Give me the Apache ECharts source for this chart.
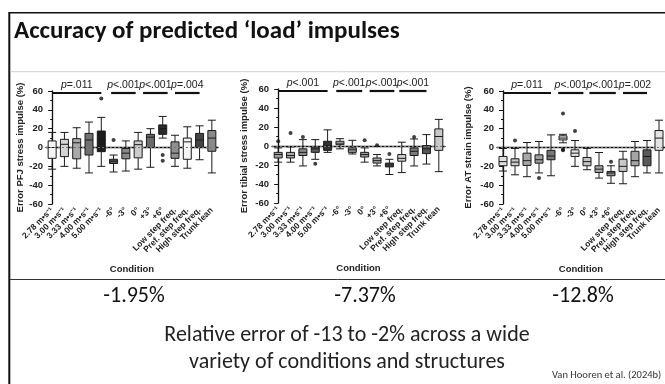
<!DOCTYPE html>
<html lang="en" style="height: 100%">
<head>
  <meta charset="utf-8">
  <title>Accuracy of predicted load impulses</title>
</head>
<body style="height: 100%; margin: 0; background: #fff">
  <div id="container" style="width: 665px; height: 384px"></div>
  <script type="text/javascript" src="https://cdn.jsdelivr.net/npm/echarts@6/dist/echarts.min.js"></script>
  <script type="text/javascript">
// categories (x axis of every panel)
const conditions = ['2.78 m•s⁻¹', '3.00 m•s⁻¹', '3.33 m•s⁻¹', '4.00 m•s⁻¹', '5.00 m•s⁻¹',
  '-6°', '-3°', '0°', '+3°', '+6°',
  'Low step freq.', 'Pref. step freq.', 'High step freq.', 'Trunk lean'];

// box stats: [min, Q1, median, Q3, max]
const pfjStats = [
  [-23, -11.5, 0, 7, 16], [-20, -9.7, 3.4, 8.7, 16], [-22, -12, 5, 9.4, 21], [-27, -8, 8, 15, 27], [-20, -4.4, 9, 17.5, 32],
  [-26, -17, -14.5, -12.5, -8], [-25, -12, -6, -1, 7], [-23, -11, 3, 7, 16], [-21, 0, 11, 14, 20], [10, 14, 20, 24, 33],
  [-20, -11.5, -6, 6, 13], [-22, -12.5, 6, 10, 22], [-13, 0, 8, 15, 23], [-27, -4, 10, 18, 29]
];
const pfjOutliers = [[4, 52], [5, 8], [9, -8], [9, -14]];

const tibialStats = [
  [-17, -12.6, -9, -6.7, -2], [-17, -12.6, -10, -6.7, -1], [-21, -10, -6.7, -3, 6.7], [-14, -6.7, -3, -1, 6.7], [-6.7, -4.6, 0, 5, 17],
  [-3, 1.4, 3, 5, 7.7], [-8.4, -6.7, -4, -2, 6], [-17, -11.6, -9, -6.7, -2], [-21, -18, -15.4, -12.6, -9], [-30, -22, -20, -18, -14],
  [-28, -16, -13, -9, 4], [-21, -10, -5.6, -2, 7.4], [-19, -8, -3, 0.4, 12], [-27, -4.6, 10, 18, 28]
];
const tibialOutliers = [[0, 5], [1, 13.7], [2, 9.5], [3, -18.6], [7, 6], [8, 0.7], [9, -8.4], [11, 9.5]];

const atStats = [
  [-25, -19.4, -15, -9.5, -1], [-29, -19.4, -15.5, -12, -1], [-31, -19, -14, -6, 5.3], [-27, -16.6, -13, -7.8, 6.4], [-30, -13, -9, -3, 13.4],
  [5, 8, 10, 12.4, 14], [-20, -9.5, -6, -2.5, 7.4], [-23.6, -19.4, -15, -10.6, -1], [-32.5, -26.5, -23, -19.4, -5.3], [-38, -30, -27, -25.4, -19.4],
  [-38.5, -25.4, -20, -12.4, -4], [-31, -19.4, -14, -4, 6.4], [-27, -19.4, -9.5, -2.5, 7.4], [-27, -3, 10, 18, 29]
];
const atOutliers = [[1, 7.4], [3, -32.5], [5, 36], [5, -2], [5, -3], [6, 17.6], [9, -15]];

// significance bars: [from category, to category, p text]
const pfjP = [[0, 4, '=.011'], [4.8, 6.8, '<.001'], [7.4, 9.4, '<.001'], [10, 12, '=.004']];
const tibialP = [[0, 4, '<.001'], [4.7, 6.8, '<.001'], [7.4, 9.4, '<.001'], [9.8, 12, '<.001']];
const atP = [[0, 4, '=.011'], [4.6, 6.7, '<.001'], [7.2, 9.4, '<.001'], [10, 12, '=.002']];

const yNames = ['Error PFJ stress impulse (%)', 'Error tibial stress impulse (%)', 'Error AT strain impulse (%)'];
const meanErrors = ['-1.95%', '-7.37%', '-12.8%'];

// box fill greys
const pfjColors = ['#f4f4f4', '#d4d4d4', '#a9a9a9', '#707070', '#1c1c1c', '#555555', '#8a8a8a', '#cccccc', '#6a6a6a', '#2b2b2b', '#8f8f8f', '#f4f4f4', '#444444', '#8a8a8a'];
const tibialColors = ['#a0a0a0', '#a8a8a8', '#8a8a8a', '#5a5a5a', '#2e2e2e', '#d8d8d8', '#a0a0a0', '#a0a0a0', '#a8a8a8', '#4a4a4a', '#d0d0d0', '#7a7a7a', '#555555', '#c8c8c8'];
const atColors = ['#e0e0e0', '#c8c8c8', '#a8a8a8', '#a0a0a0', '#787878', '#e4e4e4', '#e4e4e4', '#c4c4c4', '#a8a8a8', '#8a8a8a', '#c8c8c8', '#a4a4a4', '#5a5a5a', '#e4e4e4'];

var dom = document.getElementById('container');
var myChart = echarts.init(dom, null, { renderer: 'canvas' });

const panels = [
  { stats: pfjStats, out: pfjOutliers, p: pfjP, colors: pfjColors, left: 46, width: 172, top: 91, height: 113, nameGap: 16 },
  { stats: tibialStats, out: tibialOutliers, p: tibialP, colors: tibialColors, left: 272, width: 173, top: 89, height: 114, nameGap: 23 },
  { stats: atStats, out: atOutliers, p: atP, colors: atColors, left: 497, width: 172, top: 91, height: 113, nameGap: 24 }
];

const axisFont = 'Liberation Sans, Arial, sans-serif';
const slideFont = 'Carlito, Calibri, Lato, sans-serif';

const grid = [], xAxis = [], yAxis = [], series = [];
panels.forEach(function (pn, i) {
  grid.push({ left: pn.left, width: pn.width, top: pn.top, height: pn.height });
  xAxis.push({
    type: 'category', gridIndex: i, data: conditions,
    axisLine: { lineStyle: { color: '#111', width: 1.3 } },
    axisTick: { alignWithLabel: true, length: 4, lineStyle: { color: '#111' } },
    axisLabel: { rotate: 45, margin: 5, fontSize: 8.5, fontWeight: 'bold', color: '#222', fontFamily: axisFont, interval: 0 },
    name: 'Condition', nameLocation: 'middle', nameGap: 60,
    nameTextStyle: { fontSize: 9.5, fontWeight: 'bold', color: '#222', fontFamily: axisFont }
  });
  xAxis.push({ type: 'value', gridIndex: i, min: -0.5, max: 13.5, show: false });
  yAxis.push({
    type: 'value', gridIndex: i, min: -60, max: 60, interval: 20,
    splitLine: { show: false },
    axisLine: { show: true, lineStyle: { color: '#111', width: 1.3 } },
    axisTick: { show: true, length: 4, lineStyle: { color: '#111' } },
    minorTick: { show: true, splitNumber: 2, length: 2, lineStyle: { color: '#111' } },
    axisLabel: { fontSize: 9.5, fontWeight: 'bold', color: '#222', fontFamily: axisFont, margin: 3 },
    name: yNames[i], nameLocation: 'middle', nameGap: pn.nameGap, nameRotate: 90,
    nameTextStyle: { fontSize: 9.5, fontWeight: 'bold', color: '#222', fontFamily: axisFont }
  });
  series.push({
    type: 'boxplot', xAxisIndex: 2 * i, yAxisIndex: i, boxWidth: [8, 8],
    data: pn.stats.map(function (s, k) {
      return { value: s, itemStyle: { color: pn.colors[k], borderColor: '#1a1a1a', borderWidth: 1 } };
    }),
    animation: false, silent: true
  });
  const marks = [];
  marks.push([{ coord: [-0.5, 0], lineStyle: { type: [2, 2], color: '#777', width: 1 } }, { coord: [13.5, 0] }]);
  [4.5, 9.5, 12.5].forEach(function (x) {
    marks.push([{ coord: [x, -60], lineStyle: { type: 'solid', color: '#d4d4d4', width: 1 } }, { coord: [x, 63] }]);
  });
  pn.p.forEach(function (b) {
    marks.push([{
      coord: [b[0], 58], lineStyle: { type: 'solid', color: '#111', width: 2.2 },
      label: { show: true, position: 'middle', formatter: '{i|p}' + b[2], distance: 2,
        color: '#222', fontSize: 10.5, fontFamily: axisFont,
        rich: { i: { fontStyle: 'italic', fontSize: 10.5, color: '#222', fontFamily: axisFont } } }
    }, { coord: [b[1], 58] }]);
  });
  series.push({
    type: 'scatter', xAxisIndex: 2 * i + 1, yAxisIndex: i, data: pn.out,
    symbolSize: 4, itemStyle: { color: '#111' }, clip: false, animation: false, silent: true, z: 5,
    markLine: { symbol: 'none', silent: true, animation: false, data: marks, label: { show: false } }
  });
});

const graphic = [
  { type: 'line', shape: { x1: 9, y1: 12.7, x2: 665, y2: 12.7 }, style: { stroke: '#111', lineWidth: 1.5 } },
  { type: 'line', shape: { x1: 9.3, y1: 12, x2: 9.3, y2: 384 }, style: { stroke: '#111', lineWidth: 2 } },
  { type: 'line', shape: { x1: 10, y1: 71.7, x2: 665, y2: 71.7 }, style: { stroke: '#cfcfcf', lineWidth: 1 } },
  { type: 'line', shape: { x1: 10, y1: 279.5, x2: 665, y2: 279.5 }, style: { stroke: '#333', lineWidth: 1 } },
  { type: 'text', x: 14, y: 32, style: { text: 'Accuracy of predicted ‘load’ impulses', font: 'bold 25px ' + slideFont, fill: '#111', textVerticalAlign: 'middle' } },
  { type: 'text', x: 347, y: 335, style: { text: 'Relative error of -13 to -2% across a wide', font: '22px ' + slideFont, fill: '#222', textAlign: 'center', textVerticalAlign: 'middle' } },
  { type: 'text', x: 347, y: 362, style: { text: 'variety of conditions and structures', font: '22px ' + slideFont, fill: '#222', textAlign: 'center', textVerticalAlign: 'middle' } },
  { type: 'text', x: 552, y: 375, style: { text: 'Van Hooren et al. (2024b)', font: '10.5px ' + slideFont, fill: '#333', textVerticalAlign: 'middle' } }
];
const centers = [134, 365, 583];
meanErrors.forEach(function (t, i) {
  graphic.push({ type: 'text', x: centers[i], y: 296, style: { text: t, font: '22px ' + slideFont, fill: '#111', textAlign: 'center', textVerticalAlign: 'middle' } });
});

var option = { animation: false, grid: grid, xAxis: xAxis, yAxis: yAxis, series: series, graphic: graphic };
myChart.setOption(option);
window.addEventListener('resize', myChart.resize);
  </script>
</body>
</html>
